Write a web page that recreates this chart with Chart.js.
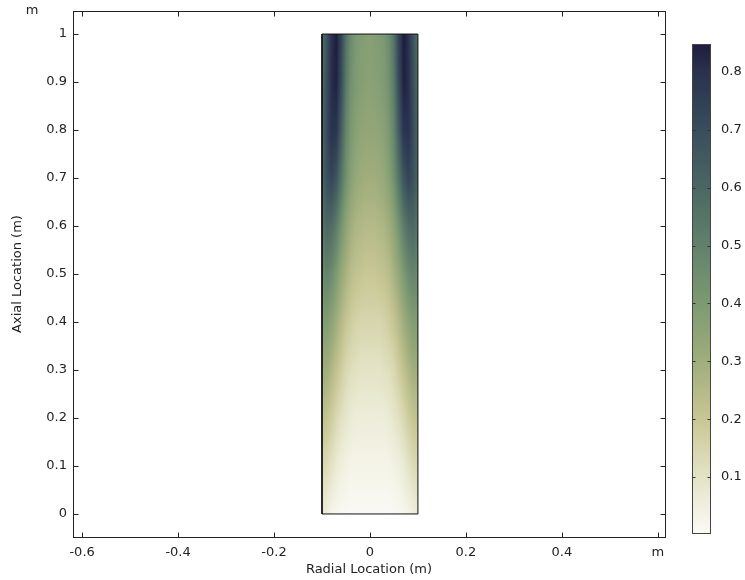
<!DOCTYPE html>
<html>
<head>
<meta charset="utf-8">
<script src="https://cdn.jsdelivr.net/npm/chart.js@4.4.0/dist/chart.umd.min.js"></script>
<style>
  html, body { margin: 0; padding: 0; background: #fff; }
  #wrap { position: relative; width: 745px; height: 580px; }
  #main { position: absolute; left: 0; top: 0; }
  #bar { position: absolute; left: 680px; top: 0; }
</style>
</head>
<body>
<div id="wrap">
  <canvas id="main" width="745" height="580"></canvas>
  <canvas id="bar" width="65" height="580"></canvas>
</div>
<script>
// ** DATA: ** //

var radialPts = [-0.10, -0.09, -0.08, -0.07, -0.06, -0.05, -0.04, -0.03, -0.02, -0.01, 0,
                 0.01, 0.02, 0.03, 0.04, 0.05, 0.06, 0.07, 0.08, 0.09, 0.10];
var axialPts = [1.0, 0.9, 0.8, 0.7, 0.6, 0.5, 0.4, 0.3, 0.2, 0.1, 0.0];

// one row per axial position (top to bottom), one value per radial position
var fieldRows = [
  [0.56,0.68,0.80,0.85,0.74,0.56,0.46,0.41,0.39,0.38,0.37,0.38,0.39,0.41,0.46,0.56,0.74,0.85,0.80,0.68,0.56],
  [0.58,0.70,0.81,0.84,0.71,0.53,0.44,0.40,0.38,0.37,0.36,0.37,0.38,0.40,0.44,0.53,0.71,0.84,0.81,0.70,0.58],
  [0.60,0.71,0.80,0.79,0.64,0.49,0.41,0.37,0.35,0.34,0.34,0.34,0.35,0.37,0.41,0.49,0.64,0.79,0.80,0.71,0.60],
  [0.60,0.69,0.73,0.67,0.55,0.44,0.37,0.33,0.31,0.30,0.30,0.30,0.31,0.33,0.37,0.44,0.55,0.67,0.73,0.69,0.60],
  [0.55,0.60,0.58,0.52,0.43,0.35,0.30,0.27,0.26,0.25,0.25,0.25,0.26,0.27,0.30,0.35,0.43,0.52,0.58,0.60,0.55],
  [0.47,0.49,0.46,0.40,0.33,0.28,0.24,0.22,0.21,0.20,0.20,0.20,0.21,0.22,0.24,0.28,0.33,0.40,0.46,0.49,0.47],
  [0.38,0.39,0.35,0.30,0.25,0.21,0.18,0.16,0.15,0.15,0.15,0.15,0.15,0.16,0.18,0.21,0.25,0.30,0.35,0.39,0.38],
  [0.30,0.30,0.26,0.22,0.18,0.14,0.12,0.11,0.10,0.10,0.10,0.10,0.10,0.11,0.12,0.14,0.18,0.22,0.26,0.30,0.30],
  [0.22,0.21,0.18,0.14,0.11,0.09,0.07,0.06,0.06,0.06,0.06,0.06,0.06,0.06,0.07,0.09,0.11,0.14,0.18,0.21,0.22],
  [0.14,0.13,0.10,0.07,0.05,0.04,0.03,0.03,0.03,0.03,0.03,0.03,0.03,0.03,0.03,0.04,0.05,0.07,0.10,0.13,0.14],
  [0.07,0.05,0.03,0.02,0.01,0.01,0.005,0.005,0.005,0.005,0.005,0.005,0.005,0.005,0.005,0.01,0.01,0.02,0.03,0.05,0.07]
];

// outline of the domain
var domainR = [-0.1, 0.1, 0.1, -0.1, -0.1];
var domainZ = [0, 0, 1, 1, 0];

var xTicks = [-0.6, -0.4, -0.2, 0, 0.2, 0.4, 0.6];
var yTicks = [0, 0.1, 0.2, 0.3, 0.4, 0.5, 0.6, 0.7, 0.8, 0.9, 1];
var colorTicks = [0.1, 0.2, 0.3, 0.4, 0.5, 0.6, 0.7, 0.8];
var colorMin = 0.0035;
var colorMax = 0.848;

var colorStopVals = [0, 0.1, 0.2, 0.3, 0.4, 0.5, 0.6, 0.7, 0.8, 0.85];
var colorStopCols = ['#fbfbf7', '#e4e3c6', '#c8c795', '#a0ad7c', '#7d9a72',
                     '#62816b', '#4b6763', '#394d5c', '#29324e', '#1f1b3e'];

var FONT = 'DejaVu Sans';
var FSIZE = 13;
var TEXT = '#222';

// ** FUNCTIONS: ** //

function hexToRgb(h) {
	return [parseInt(h.substr(1, 2), 16), parseInt(h.substr(3, 2), 16), parseInt(h.substr(5, 2), 16)];
}

var stopRgb = colorStopCols.map(hexToRgb);

function colorFor(v) {
	var n = colorStopVals.length;
	if (v <= colorStopVals[0]) return stopRgb[0];
	if (v >= colorStopVals[n - 1]) return stopRgb[n - 1];
	for (var i = 0; i < n - 1; i++) {
		if (v <= colorStopVals[i + 1]) {
			var t = (v - colorStopVals[i]) / (colorStopVals[i + 1] - colorStopVals[i]);
			var a = stopRgb[i], b = stopRgb[i + 1];
			return [a[0] + (b[0] - a[0]) * t, a[1] + (b[1] - a[1]) * t, a[2] + (b[2] - a[2]) * t];
		}
	}
	return stopRgb[n - 1];
}

// index + fraction of v in a sorted array (ascending or descending)
function locate(arr, v) {
	var asc = arr[arr.length - 1] > arr[0];
	for (var i = 0; i < arr.length - 1; i++) {
		var lo = arr[i], hi = arr[i + 1];
		if ((asc && v <= hi) || (!asc && v >= hi)) {
			var t = (v - lo) / (hi - lo);
			return [i, Math.max(0, Math.min(1, t))];
		}
	}
	return [arr.length - 2, 1];
}

function fieldAt(r, z) {
	var c = locate(radialPts, r), w = locate(axialPts, z);
	var r0 = fieldRows[w[0]], r1 = fieldRows[w[0] + 1];
	var top = r0[c[0]] + (r0[c[0] + 1] - r0[c[0]]) * c[1];
	var bot = r1[c[0]] + (r1[c[0] + 1] - r1[c[0]]) * c[1];
	return top + (bot - top) * w[1];
}

var heatmapPlugin = {
	id: 'heatmap',
	beforeDatasetsDraw: function(chart) {
		var xs = chart.scales.x, ys = chart.scales.y, ctx = chart.ctx;
		var x0 = Math.round(xs.getPixelForValue(radialPts[0]));
		var x1 = Math.round(xs.getPixelForValue(radialPts[radialPts.length - 1]));
		var y0 = Math.round(ys.getPixelForValue(axialPts[0]));
		var y1 = Math.round(ys.getPixelForValue(axialPts[axialPts.length - 1]));
		var w = x1 - x0, h = y1 - y0;
		var off = document.createElement('canvas');
		off.width = w; off.height = h;
		var octx = off.getContext('2d');
		var img = octx.createImageData(w, h);
		for (var py = 0; py < h; py++) {
			var z = ys.getValueForPixel(y0 + py + 0.5);
			for (var px = 0; px < w; px++) {
				var r = xs.getValueForPixel(x0 + px + 0.5);
				var col = colorFor(fieldAt(r, z));
				var k = (py * w + px) * 4;
				img.data[k] = col[0]; img.data[k + 1] = col[1]; img.data[k + 2] = col[2]; img.data[k + 3] = 255;
			}
		}
		octx.putImageData(img, 0, 0);
		ctx.drawImage(off, x0, y0);
	}
};

var framePlugin = {
	id: 'frame',
	afterDraw: function(chart) {
		var a = chart.chartArea, ctx = chart.ctx;
		var xs = chart.scales.x, ys = chart.scales.y;
		var L = Math.round(a.left) + 0.5, R = Math.round(a.right) + 0.5;
		var T = Math.round(a.top) + 0.5, B = Math.round(a.bottom) + 0.5;
		ctx.save();
		ctx.strokeStyle = TEXT;
		ctx.lineWidth = 1;
		ctx.strokeRect(L, T, R - L, B - T);
		ctx.beginPath();
		xTicks.forEach(function(v) {
			var p = Math.round(xs.getPixelForValue(v)) + 0.5;
			ctx.moveTo(p, B); ctx.lineTo(p, B - 5);
			ctx.moveTo(p, T); ctx.lineTo(p, T + 5);
		});
		yTicks.forEach(function(v) {
			var p = Math.round(ys.getPixelForValue(v)) + 0.5;
			ctx.moveTo(L, p); ctx.lineTo(L + 5, p);
			ctx.moveTo(R, p); ctx.lineTo(R - 5, p);
		});
		ctx.stroke();
		ctx.fillStyle = TEXT;
		ctx.font = FSIZE + 'px "' + FONT + '"';
		ctx.textAlign = 'center';
		ctx.textBaseline = 'middle';
		ctx.fillText('m', a.left - 41, a.top);
		ctx.restore();
	}
};

var colorbarPlugin = {
	id: 'colorbar',
	beforeDatasetsDraw: function(chart) {
		var a = chart.chartArea, ctx = chart.ctx, ys = chart.scales.y;
		var n = colorStopVals.length;
		var pLo = ys.getPixelForValue(colorStopVals[0]);
		var pHi = ys.getPixelForValue(colorStopVals[n - 1]);
		var grad = ctx.createLinearGradient(0, pLo, 0, pHi);
		for (var i = 0; i < n; i++) {
			grad.addColorStop((colorStopVals[i] - colorStopVals[0]) / (colorStopVals[n - 1] - colorStopVals[0]), colorStopCols[i]);
		}
		ctx.save();
		ctx.fillStyle = grad;
		ctx.fillRect(a.left, a.top, a.right - a.left, a.bottom - a.top);
		var L = Math.round(a.left) + 0.5, R = Math.round(a.right) - 0.5;
		var T = Math.round(a.top) + 0.5, B = Math.round(a.bottom) + 0.5;
		ctx.strokeStyle = '#333';
		ctx.lineWidth = 1;
		ctx.beginPath();
		colorTicks.forEach(function(v) {
			var p = Math.round(ys.getPixelForValue(v)) + 0.5;
			ctx.moveTo(L, p); ctx.lineTo(L + 3, p);
			ctx.moveTo(R, p); ctx.lineTo(R - 3, p);
		});
		ctx.stroke();
		ctx.strokeStyle = '#444';
		ctx.strokeRect(L, T, R - L, B - T);
		ctx.restore();
	}
};

function fixedTicks(list) {
	return function(scale) {
		scale.ticks = list.map(function(v) { return { value: v }; });
	};
}

// ** ENTRY POINT: ** //

var domainPoints = domainR.map(function(r, i) { return { x: r, y: domainZ[i] }; });

new Chart(document.getElementById('main'), {
	type: 'scatter',
	data: {
		datasets: [{
			data: domainPoints,
			showLine: true,
			borderColor: '#111',
			borderWidth: 1,
			pointRadius: 0,
			fill: false
		}]
	},
	options: {
		responsive: false,
		animation: false,
		devicePixelRatio: 1,
		layout: { padding: { top: 11, right: 80, left: 0, bottom: 0 } },
		plugins: { legend: { display: false }, tooltip: { enabled: false } },
		scales: {
			x: {
				type: 'linear', min: -0.619, max: 0.615,
				grid: { display: false, drawTicks: false },
				border: { display: false },
				afterBuildTicks: fixedTicks(xTicks),
				afterFit: function(s) { s.height = 43; s.paddingLeft = 0; s.paddingRight = 0; },
				ticks: {
					padding: 8, color: TEXT, maxRotation: 0, autoSkip: false,
					font: { family: FONT, size: FSIZE },
					callback: function(v) { return v === 0.6 ? 'm' : String(v); }
				},
				title: { display: true, text: 'Radial Location (m)', color: TEXT, font: { family: FONT, size: FSIZE }, padding: { top: 0, bottom: 3 } }
			},
			y: {
				type: 'linear', min: -0.048, max: 1.048,
				grid: { display: false, drawTicks: false },
				border: { display: false },
				afterBuildTicks: fixedTicks(yTicks),
				afterFit: function(s) { s.width = 73; s.paddingTop = 0; s.paddingBottom = 0; },
				ticks: {
					padding: 6, color: TEXT, autoSkip: false,
					font: { family: FONT, size: FSIZE },
					callback: function(v) { return String(v); }
				},
				title: { display: true, text: 'Axial Location (m)', color: TEXT, font: { family: FONT, size: FSIZE }, padding: { top: 10, bottom: 0 } }
			}
		}
	},
	plugins: [heatmapPlugin, framePlugin]
});

new Chart(document.getElementById('bar'), {
	type: 'scatter',
	data: { datasets: [] },
	options: {
		responsive: false,
		animation: false,
		devicePixelRatio: 1,
		layout: { padding: { top: 44, bottom: 47, left: 12, right: 0 } },
		plugins: { legend: { display: false }, tooltip: { enabled: false } },
		scales: {
			x: { display: false, min: 0, max: 1 },
			y: {
				position: 'right', min: colorMin, max: colorMax,
				grid: { display: false, drawTicks: false },
				border: { display: false },
				afterBuildTicks: fixedTicks(colorTicks),
				afterFit: function(s) { s.width = 34; s.paddingTop = 0; s.paddingBottom = 0; },
				ticks: {
					padding: 10, color: TEXT, autoSkip: false,
					font: { family: FONT, size: FSIZE },
					callback: function(v) { return String(v); }
				}
			}
		}
	},
	plugins: [colorbarPlugin]
});
</script>
</body>
</html>
